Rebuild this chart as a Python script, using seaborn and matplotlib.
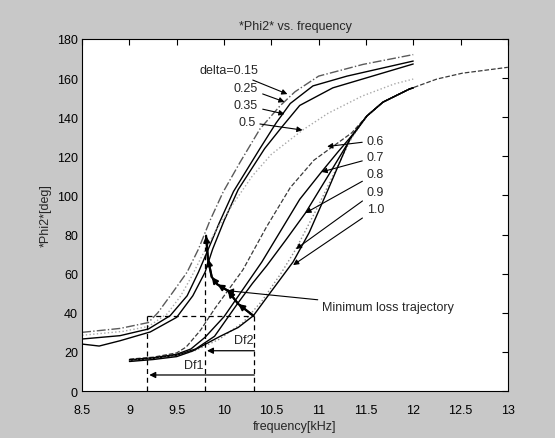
import matplotlib
matplotlib.use("Agg")
import matplotlib.pyplot as plt
import seaborn as sns

# ---- low-frequency family (delta = 0.15 ... 0.5) ----
f_015 = [8.5, 8.9, 9.2, 9.3, 9.46, 9.61, 9.73, 9.85, 9.99, 10.17, 10.38, 10.59, 10.75, 11.0, 11.47, 12.0]
p_015 = [30.0, 32.0, 35.0, 40.0, 50.6, 60.8, 72.6, 87.0, 101.7, 117.0, 134.0, 145.7, 153.0, 161.0, 167.0, 172.0]

f_025 = [8.5, 8.9, 9.2, 9.43, 9.61, 9.73, 9.82, 9.95, 10.1, 10.38, 10.55, 10.7, 10.94, 11.3, 12.0]
p_025 = [26.6, 28.3, 31.7, 38.5, 48.7, 60.8, 71.0, 86.0, 102.0, 124.0, 137.0, 147.0, 156.0, 161.0, 168.7]

f_035 = [8.5, 8.68, 8.9, 9.22, 9.5, 9.67, 9.8, 9.88, 10.0, 10.15, 10.43, 10.62, 10.8, 11.15, 12.0]
p_035 = [24.0, 23.0, 25.7, 30.2, 37.7, 48.7, 60.8, 72.6, 87.0, 103.0, 124.0, 135.5, 146.0, 155.0, 167.2]

f_050 = [8.5, 8.93, 9.2, 9.4, 9.54, 9.66, 9.75, 9.9, 10.1, 10.3, 10.5, 10.83, 11.1, 11.46, 11.8, 12.0]
p_050 = [28.5, 30.5, 33.0, 39.5, 48.5, 58.8, 67.5, 81.0, 96.0, 110.0, 121.0, 133.4, 142.0, 150.8, 157.0, 159.5]

# ---- high-frequency family (delta = 0.6 ... 1.0) ----
f_060 = [9.0, 9.25, 9.5, 9.6, 9.75, 9.9, 10.04, 10.2, 10.45, 10.7, 10.95, 11.15, 11.35, 11.51, 11.68, 11.96, 12.25, 12.52, 13.0]
p_060 = [16.3, 17.3, 19.5, 22.5, 31.0, 42.0, 51.3, 62.0, 84.0, 104.0, 118.0, 125.0, 132.0, 140.6, 147.7, 154.4, 159.5, 162.5, 165.5]

f_070 = [9.0, 9.25, 9.5, 9.65, 9.8, 10.0, 10.2, 10.4, 10.6, 10.8, 11.03, 11.2, 11.35, 11.51, 11.68, 11.96, 12.0]
p_070 = [16.0, 17.0, 18.8, 21.5, 27.5, 38.0, 52.0, 66.0, 82.0, 98.0, 112.0, 122.0, 130.5, 140.6, 147.7, 154.4, 155.0]

f_080 = [9.0, 9.25, 9.5, 9.7, 9.9, 10.14, 10.3, 10.45, 10.65, 10.86, 11.1, 11.35, 11.51, 11.68, 11.96, 12.0]
p_080 = [15.7, 16.7, 18.3, 21.5, 28.0, 44.5, 55.0, 64.0, 77.0, 91.0, 110.0, 130.0, 140.6, 147.7, 154.4, 155.0]

f_090 = [9.0, 9.25, 9.5, 9.7, 9.95, 10.2, 10.4, 10.6, 10.76, 11.0, 11.2, 11.35, 11.51, 11.68, 11.96, 12.0]
p_090 = [15.4, 16.4, 18.0, 20.8, 26.5, 35.0, 46.0, 60.0, 72.6, 95.0, 115.0, 129.5, 140.6, 147.7, 154.4, 155.0]

f_100 = [9.0, 9.25, 9.5, 9.67, 9.96, 10.15, 10.31, 10.5, 10.73, 10.9, 11.1, 11.33, 11.51, 11.68, 11.96, 12.0]
p_100 = [15.1, 16.1, 17.6, 20.5, 28.0, 32.5, 38.5, 51.0, 66.0, 81.0, 103.0, 129.0, 140.6, 147.7, 154.4, 155.0]

# minimum loss trajectory (from delta = 1.0 up to delta = 0.15)
traj_f = [10.31, 10.15, 10.04, 9.93, 9.87, 9.83, 9.81]
traj_p = [38.5, 44.5, 51.3, 54.5, 58.3, 67.5, 79.4]

# frequency shifts
df_level = 38.5
f_start1 = 9.19
f_start2 = 9.80
f_end = 10.32
df2_y = 20.6
df1_y = 8.2

x_ticks = [8.5, 9, 9.5, 10, 10.5, 11, 11.5, 12, 12.5, 13]
x_tick_labels = ["8.5", "9", "9.5", "10", "10.5", "11", "11.5", "12", "12.5", "13"]
y_ticks = [0, 20, 40, 60, 80, 100, 120, 140, 160, 180]

# delta labels: text, text position, arrow tip
left_labels = ["delta=0.15", "0.25", "0.35", "0.5"]
left_text_xy = [(10.36, 164.0), (10.36, 155.0), (10.36, 146.0), (10.33, 137.5)]
left_tips = [(10.67, 151.8), (10.64, 147.8), (10.64, 141.6), (10.83, 133.4)]

right_labels = ["0.6", "0.7", "0.8", "0.9", "1.0"]
right_text_xy = [(11.51, 128.0), (11.51, 119.5), (11.51, 111.0), (11.51, 102.0), (11.51, 93.0)]
right_tips = [(11.09, 125.0), (11.03, 112.0), (10.86, 91.0), (10.76, 72.6), (10.73, 64.4)]

traj_label = "Minimum loss trajectory"
traj_label_xy = (11.04, 43.0)
traj_label_tip = (10.04, 51.3)

FS = 9

sns.set_theme(style="white")
plt.rcParams["font.family"] = ["Liberation Sans", "DejaVu Sans"]

fig = plt.figure(figsize=(5.55, 4.39), dpi=100, facecolor="#c8c8c8")
ax = fig.add_axes([0.148, 0.107, 0.767, 0.802])
ax.set_facecolor("white")

curves = [
    (f_015, p_015, "-.", "#5a5a5a", 1.0),
    (f_025, p_025, "-", "black", 1.0),
    (f_035, p_035, "-", "black", 1.0),
    (f_050, p_050, ":", "#a8a8a8", 1.0),
    (f_060, p_060, "--", "#3a3a3a", 0.9),
    (f_070, p_070, "-", "black", 1.0),
    (f_080, p_080, "-", "black", 1.0),
    (f_090, p_090, ":", "#8a8a8a", 1.0),
    (f_100, p_100, "-", "black", 1.0),
]
for fx, py, ls, col, lw in curves:
    sns.lineplot(x=fx, y=py, ax=ax, color=col, linestyle=ls, linewidth=lw,
                 sort=False, estimator=None)

# dashed construction lines for the frequency shifts
dash_kw = dict(color="black", linestyle=(0, (4, 3)), linewidth=0.9)
ax.plot([f_start1, f_end], [df_level, df_level], **dash_kw)
ax.plot([f_start1, f_start1], [0, df_level], **dash_kw)
ax.plot([f_end, f_end], [0, df_level], **dash_kw)
ax.plot([f_start2, f_start2], [0, traj_p[-2] + 6], **dash_kw)

# minimum loss trajectory with direction arrows
sns.lineplot(x=traj_f, y=traj_p, ax=ax, color="black", linewidth=1.6,
             sort=False, estimator=None)
for i in range(1, len(traj_f)):
    ax.annotate("", xy=(traj_f[i], traj_p[i]), xytext=(traj_f[i - 1], traj_p[i - 1]),
                arrowprops=dict(arrowstyle="-|>", color="black", lw=1.4,
                                mutation_scale=9, shrinkA=0, shrinkB=0))

# Df arrows
arrow_kw = dict(arrowstyle="-|>", color="black", lw=0.9, mutation_scale=9, shrinkA=0, shrinkB=0)
ax.annotate("", xy=(f_start2 + 0.02, df2_y), xytext=(f_end, df2_y), arrowprops=arrow_kw)
ax.annotate("", xy=(f_start1 + 0.02, df1_y), xytext=(f_end, df1_y), arrowprops=arrow_kw)
ax.text(10.21, df2_y + 5.5, "Df2", fontsize=FS, ha="center", va="center")
ax.text(9.68, df1_y + 5.0, "Df1", fontsize=FS, ha="center", va="center")

lab_arrow = dict(arrowstyle="-|>", color="black", lw=0.8, mutation_scale=8, shrinkA=1, shrinkB=0)
for txt, (tx, ty), tip in zip(left_labels, left_text_xy, left_tips):
    ax.annotate(txt, xy=tip, xytext=(tx, ty), fontsize=FS, ha="right", va="center",
                arrowprops=lab_arrow)
for txt, (tx, ty), tip in zip(right_labels, right_text_xy, right_tips):
    ax.annotate(txt, xy=tip, xytext=(tx, ty), fontsize=FS, ha="left", va="center",
                arrowprops=lab_arrow)
ax.annotate(traj_label, xy=traj_label_tip, xytext=traj_label_xy, fontsize=FS,
            ha="left", va="center", arrowprops=lab_arrow)

ax.set_xlim(8.5, 13)
ax.set_ylim(0, 180)
ax.set_xticks(x_ticks)
ax.set_xticklabels(x_tick_labels)
ax.set_yticks(y_ticks)
ax.tick_params(direction="in", length=4, width=0.8, top=True, right=True,
               labelsize=FS, colors="black", pad=3)
ax.tick_params(axis="x", pad=9)
for sp in ax.spines.values():
    sp.set_color("black")
    sp.set_linewidth(0.8)

ax.set_title("*Phi2* vs. frequency", fontsize=FS, pad=7)
ax.set_xlabel("frequency[kHz]", fontsize=FS, labelpad=3)
ax.set_ylabel("*Phi2*[deg]", fontsize=FS, labelpad=4)

fig.savefig("out.png", dpi=100, facecolor=fig.get_facecolor())
